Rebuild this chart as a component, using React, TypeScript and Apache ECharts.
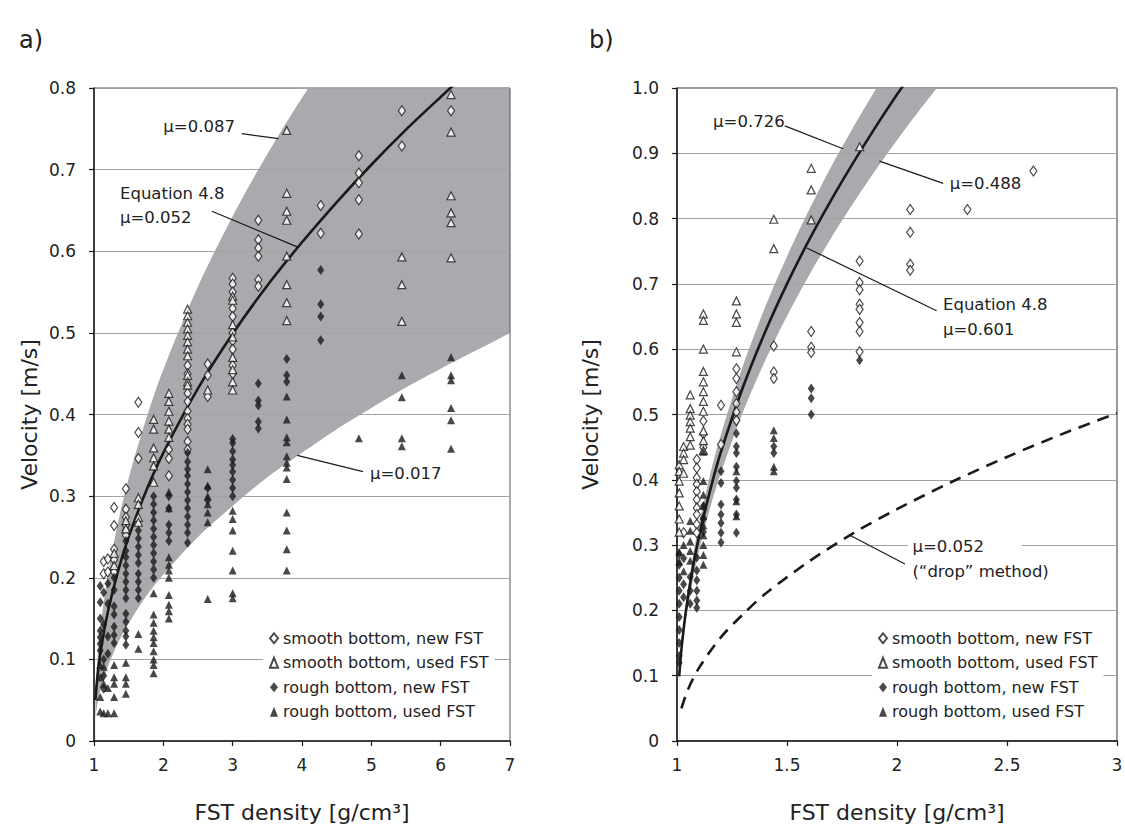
import React, { useEffect, useRef } from "react";
import * as echarts from "echarts";

type P = [number, number];

const FONT = "'DejaVu Sans', 'Noto Sans', sans-serif";
const NAMES = [
  "smooth bottom, new FST",
  "smooth bottom, used FST",
  "rough bottom, new FST",
  "rough bottom, used FST",
];

// ---------------- panel a) measured points ----------------
const aSmoothNew: P[] = [
  [1.14, 0.205], [1.14, 0.22], [1.2, 0.207], [1.2, 0.223],
  [1.29, 0.286], [1.29, 0.264], [1.29, 0.235], [1.29, 0.222], [1.29, 0.207],
  [1.46, 0.309], [1.46, 0.284], [1.46, 0.274], [1.46, 0.264], [1.46, 0.258], [1.46, 0.252],
  [1.64, 0.415], [1.64, 0.378], [1.64, 0.346],
  [2.08, 0.357], [2.08, 0.346], [2.08, 0.325],
  [2.35, 0.46], [2.35, 0.45], [2.35, 0.426], [2.35, 0.416], [2.35, 0.404], [2.35, 0.395],
  [2.35, 0.388], [2.35, 0.382], [2.35, 0.367], [2.35, 0.357],
  [2.64, 0.462], [2.64, 0.448], [2.64, 0.422],
  [3.0, 0.567], [3.0, 0.56], [3.0, 0.55], [3.0, 0.53], [3.0, 0.52], [3.0, 0.5], [3.0, 0.49],
  [3.0, 0.48], [3.0, 0.46], [3.0, 0.45],
  [3.37, 0.638], [3.37, 0.614], [3.37, 0.604], [3.37, 0.594], [3.37, 0.565], [3.37, 0.557],
  [4.27, 0.656], [4.27, 0.622],
  [4.82, 0.717], [4.82, 0.696], [4.82, 0.684], [4.82, 0.663], [4.82, 0.621],
  [5.44, 0.772], [5.44, 0.729],
  [6.15, 0.772],
];
const aSmoothUsed: P[] = [
  [1.29, 0.23], [1.29, 0.215],
  [1.46, 0.27], [1.46, 0.26],
  [1.64, 0.298], [1.64, 0.29], [1.64, 0.274], [1.64, 0.268],
  [1.86, 0.394], [1.86, 0.382], [1.86, 0.359], [1.86, 0.347], [1.86, 0.337], [1.86, 0.317],
  [2.08, 0.426], [2.08, 0.416], [2.08, 0.404], [2.08, 0.392], [2.08, 0.382], [2.08, 0.372],
  [2.35, 0.529], [2.35, 0.521], [2.35, 0.513], [2.35, 0.505], [2.35, 0.497], [2.35, 0.489],
  [2.35, 0.48], [2.35, 0.472], [2.35, 0.448], [2.35, 0.44], [2.35, 0.436],
  [2.64, 0.43],
  [3.0, 0.545], [3.0, 0.54], [3.0, 0.51], [3.0, 0.495], [3.0, 0.47], [3.0, 0.455], [3.0, 0.44], [3.0, 0.43],
  [3.78, 0.748], [3.78, 0.671], [3.78, 0.649], [3.78, 0.638], [3.78, 0.594], [3.78, 0.559],
  [3.78, 0.537], [3.78, 0.515],
  [5.44, 0.593], [5.44, 0.559], [5.44, 0.514],
  [6.15, 0.792], [6.15, 0.746], [6.15, 0.668], [6.15, 0.647], [6.15, 0.635], [6.15, 0.592],
];
const aRoughNew: P[] = [
  [1.09, 0.19], [1.09, 0.17], [1.09, 0.15], [1.09, 0.135], [1.09, 0.127], [1.09, 0.119], [1.09, 0.111],
  [1.14, 0.182], [1.14, 0.143], [1.14, 0.1], [1.14, 0.08], [1.14, 0.064],
  [1.2, 0.193], [1.2, 0.168], [1.2, 0.128], [1.2, 0.107],
  [1.29, 0.2], [1.29, 0.185], [1.29, 0.165], [1.29, 0.155], [1.29, 0.14], [1.29, 0.13], [1.29, 0.12],
  [1.46, 0.245], [1.46, 0.233], [1.46, 0.225], [1.46, 0.215], [1.46, 0.205], [1.46, 0.195], [1.46, 0.185],
  [1.46, 0.175], [1.46, 0.156], [1.46, 0.146], [1.46, 0.135], [1.46, 0.128], [1.46, 0.118],
  [1.64, 0.258], [1.64, 0.248], [1.64, 0.238], [1.64, 0.228], [1.64, 0.218], [1.64, 0.205],
  [1.64, 0.195], [1.64, 0.185], [1.64, 0.175],
  [1.86, 0.3], [1.86, 0.29], [1.86, 0.28], [1.86, 0.27], [1.86, 0.26], [1.86, 0.25], [1.86, 0.24],
  [1.86, 0.23], [1.86, 0.22], [1.86, 0.21], [1.86, 0.2],
  [2.08, 0.3], [2.08, 0.285], [2.08, 0.265], [2.08, 0.255], [2.08, 0.245],
  [2.35, 0.353], [2.35, 0.342], [2.35, 0.333], [2.35, 0.325], [2.35, 0.315], [2.35, 0.305],
  [2.35, 0.295], [2.35, 0.285], [2.35, 0.275], [2.35, 0.265], [2.35, 0.255], [2.35, 0.243],
  [2.64, 0.31], [2.64, 0.295],
  [3.0, 0.37], [3.0, 0.365], [3.0, 0.355], [3.0, 0.345], [3.0, 0.338], [3.0, 0.33], [3.0, 0.32],
  [3.0, 0.31], [3.0, 0.3],
  [3.37, 0.438], [3.37, 0.417], [3.37, 0.411], [3.37, 0.391], [3.37, 0.383],
  [3.78, 0.468], [3.78, 0.448], [3.78, 0.44],
  [4.27, 0.577], [4.27, 0.535], [4.27, 0.52], [4.27, 0.491],
];
const aRoughUsed: P[] = [
  [1.09, 0.093], [1.09, 0.078], [1.09, 0.054], [1.09, 0.036],
  [1.14, 0.091], [1.14, 0.07], [1.14, 0.034],
  [1.2, 0.034], [1.2, 0.065],
  [1.29, 0.093], [1.29, 0.078], [1.29, 0.07], [1.29, 0.054], [1.29, 0.034],
  [1.46, 0.096], [1.46, 0.078], [1.46, 0.07], [1.46, 0.058],
  [1.64, 0.131], [1.64, 0.113],
  [1.86, 0.181], [1.86, 0.155], [1.86, 0.145], [1.86, 0.135], [1.86, 0.127], [1.86, 0.12],
  [1.86, 0.11], [1.86, 0.1], [1.86, 0.093], [1.86, 0.083],
  [2.08, 0.305], [2.08, 0.285], [2.08, 0.225], [2.08, 0.216], [2.08, 0.209], [2.08, 0.2],
  [2.08, 0.179], [2.08, 0.167], [2.08, 0.159], [2.08, 0.15],
  [2.64, 0.333], [2.64, 0.313], [2.64, 0.3], [2.64, 0.29], [2.64, 0.28], [2.64, 0.268], [2.64, 0.174],
  [3.0, 0.282], [3.0, 0.272], [3.0, 0.258], [3.0, 0.233], [3.0, 0.209], [3.0, 0.181], [3.0, 0.175],
  [3.78, 0.422], [3.78, 0.394], [3.78, 0.372], [3.78, 0.366], [3.78, 0.349], [3.78, 0.341],
  [3.78, 0.335], [3.78, 0.321], [3.78, 0.28], [3.78, 0.258], [3.78, 0.235], [3.78, 0.209],
  [4.82, 0.371],
  [5.44, 0.448], [5.44, 0.421], [5.44, 0.371], [5.44, 0.361],
  [6.15, 0.47], [6.15, 0.448], [6.15, 0.442], [6.15, 0.408], [6.15, 0.393], [6.15, 0.358],
];

// panel a) curves
const aCurveX = [1.02, 1.05, 1.1, 1.2, 1.35, 1.5, 1.75, 2, 2.5, 3, 3.5, 4, 4.5, 5, 5.5, 6, 6.5, 7];
const aEq48 = [0.05, 0.079, 0.112, 0.158, 0.209, 0.25, 0.306, 0.353, 0.432, 0.499, 0.558, 0.611, 0.66, 0.706, 0.749, 0.789, 0.828, 0.865];
const aUpper = [0.064, 0.102, 0.144, 0.203, 0.269, 0.322, 0.394, 0.455, 0.557, 0.643, 0.719, 0.788, 0.851, 0.91, 0.965, 1.017, 1.067, 1.115];
const aLower = [0.029, 0.046, 0.065, 0.091, 0.121, 0.144, 0.177, 0.204, 0.25, 0.288, 0.323, 0.353, 0.382, 0.408, 0.433, 0.456, 0.478, 0.5];

// ---------------- panel b) measured points ----------------
const bSmoothNew: P[] = [
  [1.03, 0.319],
  [1.09, 0.431], [1.09, 0.418], [1.09, 0.403], [1.09, 0.393], [1.09, 0.382], [1.09, 0.37],
  [1.09, 0.357], [1.09, 0.347], [1.09, 0.332], [1.09, 0.319],
  [1.12, 0.49], [1.12, 0.47], [1.12, 0.45],
  [1.2, 0.514], [1.2, 0.454],
  [1.27, 0.57], [1.27, 0.555], [1.27, 0.535], [1.27, 0.517], [1.27, 0.504], [1.27, 0.491],
  [1.44, 0.605], [1.44, 0.565], [1.44, 0.555],
  [1.61, 0.627], [1.61, 0.603], [1.61, 0.595],
  [1.83, 0.735], [1.83, 0.702], [1.83, 0.691], [1.83, 0.669], [1.83, 0.661], [1.83, 0.641],
  [1.83, 0.627], [1.83, 0.596],
  [2.06, 0.814], [2.06, 0.779], [2.06, 0.73], [2.06, 0.721],
  [2.32, 0.814],
  [2.62, 0.873],
];
const bSmoothUsed: P[] = [
  [1.01, 0.423], [1.01, 0.413], [1.01, 0.398], [1.01, 0.38], [1.01, 0.36], [1.01, 0.34], [1.01, 0.32],
  [1.03, 0.451], [1.03, 0.441], [1.03, 0.431], [1.03, 0.41],
  [1.06, 0.53], [1.06, 0.509], [1.06, 0.499], [1.06, 0.489], [1.06, 0.479], [1.06, 0.466], [1.06, 0.453],
  [1.12, 0.654], [1.12, 0.644], [1.12, 0.6], [1.12, 0.566], [1.12, 0.55], [1.12, 0.535], [1.12, 0.52],
  [1.12, 0.505], [1.12, 0.475], [1.12, 0.46], [1.12, 0.445],
  [1.27, 0.674], [1.27, 0.654], [1.27, 0.641], [1.27, 0.596],
  [1.44, 0.799], [1.44, 0.754],
  [1.61, 0.877], [1.61, 0.844], [1.61, 0.798],
  [1.83, 0.91],
];
const bRoughNew: P[] = [
  [1.01, 0.286], [1.01, 0.27], [1.01, 0.25], [1.01, 0.23], [1.01, 0.21], [1.01, 0.19], [1.01, 0.17],
  [1.01, 0.15], [1.01, 0.13], [1.01, 0.12],
  [1.03, 0.28], [1.03, 0.24], [1.03, 0.22],
  [1.06, 0.251], [1.06, 0.23], [1.06, 0.21],
  [1.09, 0.281], [1.09, 0.261], [1.09, 0.246], [1.09, 0.23], [1.09, 0.215], [1.09, 0.204],
  [1.12, 0.36], [1.12, 0.34], [1.12, 0.32],
  [1.2, 0.413], [1.2, 0.395], [1.2, 0.362], [1.2, 0.347], [1.2, 0.334], [1.2, 0.319], [1.2, 0.304],
  [1.27, 0.471], [1.27, 0.451], [1.27, 0.441], [1.27, 0.42], [1.27, 0.398], [1.27, 0.388], [1.27, 0.37],
  [1.27, 0.347], [1.27, 0.319],
  [1.44, 0.451], [1.44, 0.441],
  [1.61, 0.54], [1.61, 0.525], [1.61, 0.5],
  [1.83, 0.583],
];
const bRoughUsed: P[] = [
  [1.01, 0.29], [1.01, 0.275],
  [1.03, 0.3], [1.03, 0.26],
  [1.06, 0.337], [1.06, 0.322], [1.06, 0.306], [1.06, 0.291], [1.06, 0.276],
  [1.12, 0.443], [1.12, 0.398], [1.12, 0.377], [1.12, 0.36], [1.12, 0.345], [1.12, 0.33], [1.12, 0.315],
  [1.12, 0.3], [1.12, 0.285], [1.12, 0.27],
  [1.27, 0.413], [1.27, 0.367], [1.27, 0.344],
  [1.44, 0.476], [1.44, 0.464], [1.44, 0.42], [1.44, 0.413],
];

// panel b) curves
const bCurveX = [1.01, 1.02, 1.04, 1.07, 1.1, 1.15, 1.2, 1.3, 1.4, 1.5, 1.6, 1.7, 1.8, 1.9, 2.0, 2.1, 2.2, 2.3];
const bEq48 = [0.099, 0.14, 0.198, 0.262, 0.313, 0.383, 0.443, 0.542, 0.626, 0.7, 0.767, 0.828, 0.885, 0.939, 0.99, 1.038, 1.084, 1.129];
const bUpper = [0.105, 0.148, 0.21, 0.278, 0.332, 0.407, 0.47, 0.575, 0.664, 0.742, 0.813, 0.879, 0.939, 0.996, 1.05, 1.101, 1.15, 1.197];
const bLower = [0.092, 0.13, 0.184, 0.243, 0.291, 0.356, 0.411, 0.504, 0.582, 0.651, 0.713, 0.77, 0.823, 0.873, 0.92, 0.965, 1.008, 1.049];
const bDropX = [1.02, 1.05, 1.1, 1.2, 1.3, 1.4, 1.6, 1.8, 2.0, 2.25, 2.5, 2.75, 3.0];
const bDrop = [0.05, 0.079, 0.112, 0.159, 0.194, 0.225, 0.275, 0.318, 0.355, 0.397, 0.435, 0.47, 0.502];

const zip = (xs: number[], ys: number[]): P[] => xs.map((x, i) => [x, ys[i]]);

const INK = "#1a1a1a";
const BAND = "#a8aaad";

// gray area up to the upper curve, then white area up to the lower curve -> band between both
function band(gi: number, xs: number[], hi: number[], lo: number[]) {
  const common = {
    type: "line", xAxisIndex: gi, yAxisIndex: gi, symbol: "none", smooth: 0.3,
    lineStyle: { width: 0, opacity: 0 }, silent: true, clip: true,
  };
  return [
    { ...common, data: zip(xs, hi), areaStyle: { color: BAND, opacity: 1, origin: "start" }, z: 1 },
    { ...common, data: zip(xs, lo), areaStyle: { color: "#fff", opacity: 1, origin: "start" }, z: 2 },
  ];
}

function curve(gi: number, xs: number[], ys: number[], dashed = false) {
  return {
    type: "line", xAxisIndex: gi, yAxisIndex: gi, data: zip(xs, ys), symbol: "none", smooth: 0.3,
    lineStyle: { color: INK, width: 2.6, type: dashed ? [12, 8] : "solid" }, z: 4, silent: true, clip: true,
  };
}

function pts(gi: number, name: string, data: P[], symbol: string, filled: boolean) {
  return {
    type: "scatter", name, data, xAxisIndex: gi, yAxisIndex: gi, symbol,
    symbolSize: symbol === "diamond" ? [7, 10] : [8, 8],
    itemStyle: filled ? { color: INK } : { color: "#fff", borderColor: INK, borderWidth: 1.2 },
    z: 5, silent: true,
  };
}

function yAxis(gi: number, max: number, nameGap: number) {
  return {
    type: "value", gridIndex: gi, min: 0, max, interval: 0.1, z: 3,
    name: "Velocity [m/s]", nameLocation: "middle", nameGap,
    nameTextStyle: { fontFamily: FONT, fontSize: 22, color: "#222" },
    axisLine: { show: true, lineStyle: { color: INK, width: 1.5 } },
    axisTick: { show: true, inside: false, length: 5, lineStyle: { color: INK, width: 1.2 } },
    axisLabel: {
      fontFamily: FONT, fontSize: 17, color: "#222", margin: 18,
      formatter: (v: number) => (v === 0 ? "0" : v.toFixed(1)),
    },
    splitLine: { show: true, lineStyle: { color: "#a2a2a2", width: 1.2 } },
  };
}

function xAxis(gi: number, max: number, interval: number) {
  return {
    type: "value", gridIndex: gi, min: 1, max, interval, z: 3,
    name: "FST density [g/cm³]", nameLocation: "middle", nameGap: 60,
    nameTextStyle: { fontFamily: FONT, fontSize: 22, color: "#222" },
    axisLine: { show: true, onZero: false, lineStyle: { color: INK, width: 1.5 } },
    axisTick: { show: true, inside: false, length: 5, lineStyle: { color: INK, width: 1.2 } },
    axisLabel: { fontFamily: FONT, fontSize: 17, color: "#222", margin: 15, formatter: (v: number) => String(v) },
    splitLine: { show: false },
  };
}

function legend(left: number) {
  return {
    left, top: 627, orient: "vertical", data: NAMES, itemWidth: 8, itemHeight: 10, itemGap: 8,
    backgroundColor: "#fff", padding: [3, 6, 3, 6], selectedMode: false,
    textStyle: { fontFamily: FONT, fontSize: 16, color: "#222", lineHeight: 16.5 },
  };
}

function buildOption(): any {
  return {
    animation: false,
    backgroundColor: "#fff",
    grid: [
      { left: 94, top: 88, width: 416, height: 653, show: true, borderColor: "#555", borderWidth: 1, z: 3, outerBoundsMode: "none" },
      { left: 677, top: 88, width: 440, height: 653, show: true, borderColor: "#333", borderWidth: 1, z: 3, outerBoundsMode: "none" },
    ],
    xAxis: [xAxis(0, 7, 1), xAxis(1, 3, 0.5)],
    yAxis: [yAxis(0, 0.8, 54), yAxis(1, 1.0, 76)],
    legend: [legend(263), legend(872)],
    series: [
      ...band(0, aCurveX, aUpper, aLower),
      curve(0, aCurveX, aEq48),
      pts(0, NAMES[0], aSmoothNew, "diamond", false),
      pts(0, NAMES[1], aSmoothUsed, "triangle", false),
      pts(0, NAMES[2], aRoughNew, "diamond", true),
      pts(0, NAMES[3], aRoughUsed, "triangle", true),
      ...band(1, bCurveX, bUpper, bLower),
      curve(1, bCurveX, bEq48),
      curve(1, bDropX, bDrop, true),
      pts(1, NAMES[0], bSmoothNew, "diamond", false),
      pts(1, NAMES[1], bSmoothUsed, "triangle", false),
      pts(1, NAMES[2], bRoughNew, "diamond", true),
      pts(1, NAMES[3], bRoughUsed, "triangle", true),
    ],
  };
}

// annotation anchors, in data coordinates of each panel
const NOTES: { g: number; at: P; text: string }[] = [
  { g: 0, at: [2.0, 0.753], text: "μ=0.087" },
  { g: 0, at: [1.375, 0.671], text: "Equation 4.8" },
  { g: 0, at: [1.375, 0.641], text: "μ=0.052" },
  { g: 0, at: [4.98, 0.328], text: "μ=0.017" },
  { g: 1, at: [1.164, 0.948], text: "μ=0.726" },
  { g: 1, at: [2.24, 0.854], text: "μ=0.488" },
  { g: 1, at: [2.209, 0.668], text: "Equation 4.8" },
  { g: 1, at: [2.209, 0.63], text: "μ=0.601" },
  { g: 1, at: [2.07, 0.298], text: "μ=0.052" },
  { g: 1, at: [2.07, 0.26], text: "(“drop” method)" },
];
const LEADERS: { g: number; from: P; to: P }[] = [
  { g: 0, from: [3.13, 0.744], to: [3.66, 0.738] },
  { g: 0, from: [2.7, 0.649], to: [3.94, 0.605] },
  { g: 0, from: [3.93, 0.35], to: [4.88, 0.33] },
  { g: 1, from: [1.49, 0.942], to: [1.755, 0.907] },
  { g: 1, from: [1.92, 0.888], to: [2.21, 0.854] },
  { g: 1, from: [1.59, 0.755], to: [2.18, 0.659] },
  { g: 1, from: [1.786, 0.315], to: [2.036, 0.271] },
];

function buildGraphics(chart: echarts.ECharts): any[] {
  const px = (g: number, p: P) => chart.convertToPixel({ gridIndex: g } as any, p) as unknown as number[];
  const els: any[] = [];
  // white patch behind the "drop" label (interrupts the 0.3 grid line)
  const r0 = px(1, [2.05, 0.312]);
  const r1 = px(1, [2.568, 0.285]);
  els.push({ type: "rect", shape: { x: r0[0], y: r0[1], width: r1[0] - r0[0], height: r1[1] - r0[1] }, style: { fill: "#fff" }, z: 20 });
  for (const l of LEADERS) {
    const a = px(l.g, l.from);
    const b = px(l.g, l.to);
    els.push({ type: "line", shape: { x1: a[0], y1: a[1], x2: b[0], y2: b[1] }, style: { stroke: INK, lineWidth: 1.2 }, z: 21 });
  }
  for (const n of NOTES) {
    const p = px(n.g, n.at);
    els.push({
      type: "text", x: p[0], y: p[1], z: 22,
      style: { text: n.text, fontFamily: FONT, fontSize: 16.5, fill: "#222", align: "left", verticalAlign: "middle" },
    });
  }
  els.push({ type: "text", x: 19, y: 40, z: 22, style: { text: "a)", fontFamily: FONT, fontSize: 24, fill: "#222", verticalAlign: "middle" } });
  els.push({ type: "text", x: 589, y: 40, z: 22, style: { text: "b)", fontFamily: FONT, fontSize: 24, fill: "#222", verticalAlign: "middle" } });
  return els;
}

export default function App() {
  const ref = useRef<HTMLDivElement>(null);
  useEffect(() => {
    document.body.style.margin = "0";
    const chart = echarts.init(ref.current!, null, { renderer: "svg" });
    chart.setOption(buildOption());
    chart.setOption({ graphic: buildGraphics(chart) });
    return () => chart.dispose();
  }, []);
  return <div ref={ref} style={{ width: 1125, height: 831 }} />;
}
